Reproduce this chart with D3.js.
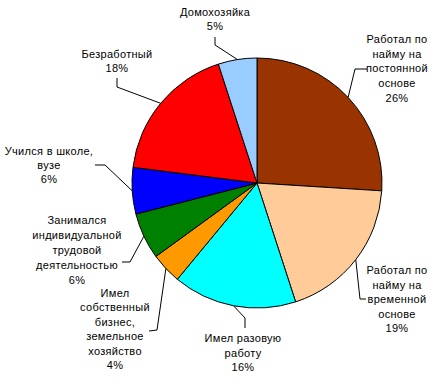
<!DOCTYPE html>
<html><head><meta charset="utf-8">
<script src="https://cdn.jsdelivr.net/npm/d3@7"></script>
<style>body{margin:0;background:#fff}svg{display:block}</style>
</head><body>
<svg id="c" width="435" height="380"></svg>
<script>
const categories = [
  "Работал по найму на постоянной основе",
  "Работал по найму на временной основе",
  "Имел разовую работу",
  "Имел собственный бизнес, земельное хозяйство",
  "Занимался индивидуальной трудовой деятельностью",
  "Учился в школе, вузе",
  "Безработный",
  "Домохозяйка"
];
const values = [26, 19, 16, 4, 6, 6, 18, 5];
const labelLines = [
  ["Работал по","найму на","постоянной","основе","26%"],
  ["Работал по","найму на","временной","основе","19%"],
  ["Имел разовую","работу","16%"],
  ["Имел","собственный","бизнес,","земельное","хозяйство","4%"],
  ["Занимался","индивидуальной","трудовой","деятельностью","6%"],
  ["Учился в школе,","вузе","6%"],
  ["Безработный","18%"],
  ["Домохозяйка","5%"]
];
const colors = ["#993300","#FFCC99","#00FFFF","#FF9900","#008000","#0000FF","#FF0000","#99CCFF"];

// label layout: text center x, first baseline y, line height; leader elbow points
const layout = [
  {x:397, y:43,  lh:14.7, leader:[[355,69],[367,69]]},
  {x:397, y:274, lh:14.5, leader:[[360,299],[366,299]]},
  {x:243, y:342, lh:14.5, leader:[[245,318],[245,328]]},
  {x:115, y:297, lh:14.4, leader:[[157,330],[149,331]]},
  {x:77,  y:224, lh:15,   leader:[[130,262],[122,262]]},
  {x:49,  y:155, lh:14,   leader:[[105,165],[95,165]]},
  {x:117, y:58,  lh:14,   leader:[[117,87],[117,78]]},
  {x:215, y:16,  lh:13.5, leader:[[215,45],[215,37]]}
];

const svg = d3.select("#c");
const cx = 257, cy = 183, r = 125;
const g = svg.append("g").attr("transform", `translate(${cx},${cy})`);
const pie = d3.pie().sort(null).value(d => d)(values);
const arc = d3.arc().innerRadius(0).outerRadius(r);
g.selectAll("path").data(pie).join("path")
  .attr("d", arc)
  .attr("fill", (d,i) => colors[i])
  .attr("stroke", "#000").attr("stroke-width", 1);

pie.forEach((d,i) => {
  const a = (d.startAngle + d.endAngle)/2;
  const ex = cx + r*Math.sin(a), ey = cy - r*Math.cos(a);
  const pts = [[ex,ey], ...layout[i].leader];
  svg.append("path")
    .attr("d", d3.line()(pts))
    .attr("fill","none").attr("stroke","#000").attr("stroke-width",1);
  const t = svg.append("text")
    .attr("text-anchor","middle")
    .attr("font-family","Liberation Sans, Arial, sans-serif")
    .attr("font-size","11px")
    .attr("letter-spacing","0.3px")
    .attr("fill","#000");
  labelLines[i].forEach((ln,j) => {
    t.append("tspan").attr("x", layout[i].x).attr("y", layout[i].y + j*layout[i].lh).text(ln);
  });
});
</script>
</body></html>
